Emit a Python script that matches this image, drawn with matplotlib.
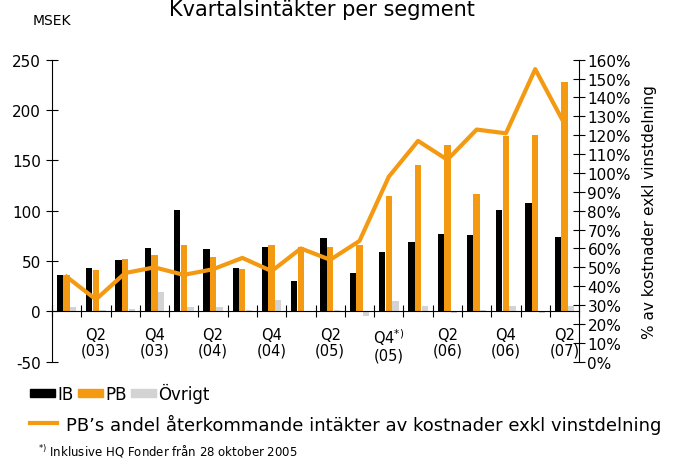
"""Kvartalsintäkter per segment: grouped bars (IB / PB / Övrigt) on the left
axis, PB's recurring-revenue share as a line on the right axis."""
import matplotlib
matplotlib.use("Agg")
import matplotlib.pyplot as plt
from matplotlib.patches import Patch
from matplotlib.lines import Line2D
import numpy as np

plt.rcParams["font.family"] = ["DejaVu Sans"]
plt.rcParams["axes.unicode_minus"] = False

QUARTERS = ["Q1 03", "Q2 03", "Q3 03", "Q4 03", "Q1 04", "Q2 04", "Q3 04",
            "Q4 04", "Q1 05", "Q2 05", "Q3 05", "Q4 05", "Q1 06", "Q2 06",
            "Q3 06", "Q4 06", "Q1 07", "Q2 07"]
IB = [36, 43, 51, 63, 101, 62, 43, 64, 30, 73, 38, 59, 69, 77, 76, 101, 108, 74]
PB = [36, 41, 52, 56, 66, 54, 42, 66, 64, 64, 66, 115, 145, 165, 117, 174, 175, 228]
OVRIGT = [4, 1, 2, 19, 4, 4, 1, 11, 0, 1, -5, 10, 5, -2, 1, 5, -2, 5]
PB_SHARE = [45, 33, 47, 50, 46, 49, 55, 48, 60, 54, 64, 98, 117, 107, 123, 121, 155, 126]

TICK_LABELS = ["Q2\n(03)", "Q4\n(03)", "Q2\n(04)", "Q4\n(04)", "Q2\n(05)",
               "Q4$^{*)}$\n(05)", "Q2\n(06)", "Q4\n(06)", "Q2\n(07)"]

BLACK = "#000000"
ORANGE = "#f39a12"
GREY = "#d3d3d3"

fig = plt.figure(figsize=(6.75, 4.6), dpi=100)
ax = fig.add_axes([0.077, 0.2115, 0.781, 0.6565])
x = np.arange(len(QUARTERS))
w = 0.215
ax.bar(x - 0.225, IB, w, color=BLACK, zorder=2)
ax.bar(x, PB, w, color=ORANGE, zorder=2)
ax.bar(x + 0.225, OVRIGT, w, color=GREY, zorder=2)

ax.set_xlim(-0.5, len(QUARTERS) - 0.5)
ax.set_ylim(-50, 250)
ax.set_yticks(np.arange(-50, 251, 50))
ax.tick_params(axis="y", direction="inout", length=8, labelsize=11, pad=4)

ax.spines["top"].set_visible(False)
ax.spines["right"].set_visible(False)
ax.spines["bottom"].set_position(("data", 0))
ax.set_xticks(np.arange(-0.5, len(QUARTERS)), labels=[])
ax.set_xticks(np.arange(1, len(QUARTERS), 2), minor=True)
ax.set_xticklabels(TICK_LABELS, minor=True, linespacing=1.05)
ax.tick_params(axis="x", which="major", direction="inout", length=9)
ax.tick_params(axis="x", which="minor", length=0, labelsize=10.5, pad=11)

ax2 = ax.twinx()
ax2.plot(x, PB_SHARE, color=ORANGE, linewidth=3, zorder=3)
ax2.set_ylim(0, 160)
ax2.set_yticks(np.arange(0, 161, 10))
ax2.set_yticklabels([f"{v}%" for v in range(0, 161, 10)])
ax2.tick_params(axis="y", direction="inout", length=8, labelsize=11, pad=2)
ax2.spines["top"].set_visible(False)
ax2.spines["bottom"].set_visible(False)
ax2.spines["left"].set_visible(False)
ax2.set_ylabel("% av kostnader exkl vinstdelning", fontsize=11, labelpad=8)

fig.text(0.477, 0.965, "Kvartalsintäkter per segment", fontsize=15,
         ha="center", va="baseline")
fig.text(0.049, 0.955, "MSEK", fontsize=10, ha="left", va="center")

bar_handles = [Patch(color=BLACK), Patch(color=ORANGE), Patch(color=GREY)]
fig.legend(bar_handles, ["IB", "PB", "Övrigt"], ncol=3, frameon=False,
           loc="center left", bbox_to_anchor=(0.045, 0.143), fontsize=12,
           handlelength=1.5, handleheight=0.35, handletextpad=0.1,
           columnspacing=0.3, borderpad=0, borderaxespad=0)
fig.legend([Line2D([], [], color=ORANGE, linewidth=3)],
           ["PB\u2019s andel återkommande intäkter av kostnader exkl vinstdelning"],
           frameon=False, loc="center left", bbox_to_anchor=(0.045, 0.077),
           fontsize=13, handlelength=1.5, handletextpad=0.5,
           borderpad=0, borderaxespad=0)
fig.text(0.056, 0.018, "$^{*)}$ Inklusive HQ Fonder från 28 oktober 2005",
         fontsize=8.5, ha="left", va="center")

fig.savefig("out.png")
